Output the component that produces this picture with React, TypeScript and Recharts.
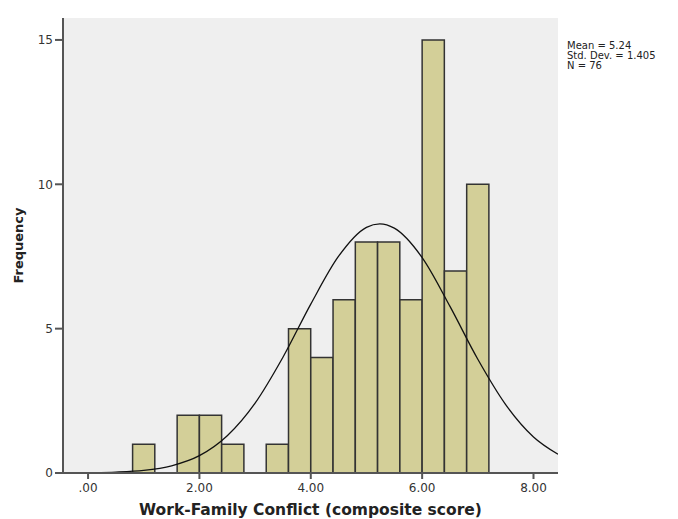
import React from 'react';
import { ComposedChart, Bar, Line, XAxis, YAxis, CartesianGrid } from 'recharts';

// Histogram bins (centers, width 0.4) and counts
const binCenters = [1.0, 1.4, 1.8, 2.2, 2.6, 3.0, 3.4, 3.8, 4.2, 4.6, 5.0, 5.4, 5.8, 6.2, 6.6, 7.0];
const frequencies = [1, 0, 2, 2, 1, 0, 1, 5, 4, 6, 8, 8, 6, 15, 7, 10];

// Normal curve points
const curveX = [-0.45, 0, 0.5, 1, 1.5, 2, 2.5, 3, 3.5, 4, 4.5, 5, 5.24, 5.5, 6, 6.5, 7, 7.5, 8, 8.44];
const curveY = [0.0, 0.01, 0.03, 0.09, 0.25, 0.6, 1.29, 2.42, 4.01, 5.85, 7.51, 8.51, 8.63, 8.48, 7.46, 5.77, 3.94, 2.37, 1.25, 0.65];

const xTicks = [0, 2, 4, 6, 8];
const xTickLabels = ['.00', '2.00', '4.00', '6.00', '8.00'];
const yTicks = [0, 5, 10, 15];

const statsLines = ['Mean = 5.24', 'Std. Dev. = 1.405', 'N = 76'];

const histData = binCenters.map((x, i) => ({ x, count: frequencies[i] }));
const curveData = curveX.map((x, i) => ({ x, curve: curveY[i] }));

const FONT = '"DejaVu Sans", Verdana, sans-serif';
const AXIS = '#555555';

export default function App() {
  const tickStyle = { fontSize: 12, fill: '#333333', fontFamily: FONT };
  return (
    <div style={{ position: 'absolute', left: 0, top: 0, width: 678, height: 519, background: '#ffffff' }}>
      <ComposedChart
        width={678}
        height={519}
        data={histData}
        margin={{ top: 18, right: 120, bottom: 0, left: 0 }}
      >
        <CartesianGrid horizontal={false} vertical={false} fill="#efefef" stroke="none" />
        <XAxis
          dataKey="x"
          type="number"
          domain={[-0.45, 8.44]}
          ticks={xTicks}
          tickFormatter={(v: number) => xTickLabels[xTicks.indexOf(v)] ?? String(v)}
          allowDataOverflow
          height={46}
          tickSize={6}
          tickMargin={4}
          tick={tickStyle}
          axisLine={{ stroke: AXIS, strokeWidth: 2 }}
          tickLine={{ stroke: AXIS, strokeWidth: 2 }}
          label={{
            value: 'Work-Family Conflict (composite score)',
            position: 'insideBottom',
            offset: 4,
            style: { fontSize: 15.5, fontWeight: 'bold', fill: '#222222', fontFamily: FONT },
          }}
        />
        <XAxis
          xAxisId="top"
          dataKey="x"
          orientation="top"
          type="number"
          domain={[-0.45, 8.44]}
          allowDataOverflow
          height={0}
          tick={false}
          tickLine={false}
          axisLine={{ stroke: AXIS, strokeWidth: 2 }}
        />
        <YAxis
          type="number"
          domain={[0, 15.76]}
          ticks={yTicks}
          allowDataOverflow
          width={63}
          tickSize={8}
          tickMargin={2}
          tick={tickStyle}
          axisLine={{ stroke: AXIS, strokeWidth: 2 }}
          tickLine={{ stroke: AXIS, strokeWidth: 2 }}
          label={{
            value: 'Frequency',
            angle: -90,
            position: 'insideLeft',
            offset: 18,
            style: { textAnchor: 'middle', fontSize: 13, fontWeight: 'bold', fill: '#222222', fontFamily: FONT },
          }}
        />
        <YAxis
          yAxisId="right"
          orientation="right"
          type="number"
          domain={[0, 15.76]}
          width={0}
          tick={false}
          tickLine={false}
          axisLine={{ stroke: AXIS, strokeWidth: 2 }}
        />
        <Bar
          dataKey="count"
          barSize={22.2}
          fill="#d3cf98"
          stroke="#333333"
          strokeWidth={1.5}
          isAnimationActive={false}
        />
        <Line
          data={curveData}
          xAxisId="top"
          dataKey="curve"
          type="monotone"
          stroke="#111111"
          strokeWidth={1.3}
          dot={false}
          activeDot={false}
          isAnimationActive={false}
        />
      </ComposedChart>
      <svg width={678} height={519} style={{ position: 'absolute', left: 0, top: 0, pointerEvents: 'none' }}>
        {statsLines.map((s, i) => (
          <text key={s} x={567} y={49 + i * 10} fontSize={10} fontFamily={FONT} fill="#222222">
            {s}
          </text>
        ))}
      </svg>
    </div>
  );
}
